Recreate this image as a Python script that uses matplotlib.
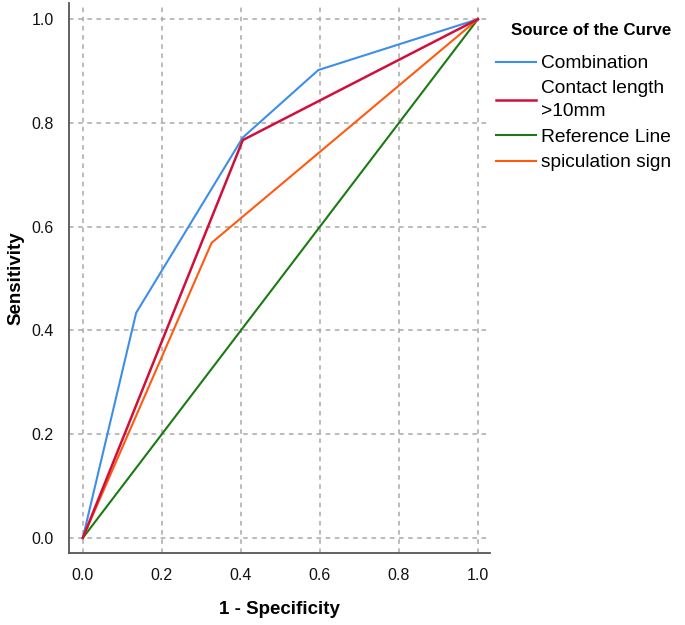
import matplotlib
matplotlib.use("Agg")
import matplotlib.pyplot as plt

plt.rcParams['font.family'] = ['Liberation Sans', 'DejaVu Sans']

# Data
comb_x = [0.0, 0.135, 0.405, 0.596, 1.0]
comb_y = [0.0, 0.434, 0.772, 0.902, 1.0]
contact_x = [0.0, 0.405, 1.0]
contact_y = [0.0, 0.767, 1.0]
ref_x = [0.0, 1.0]
ref_y = [0.0, 1.0]
spic_x = [0.0, 0.326, 1.0]
spic_y = [0.0, 0.569, 1.0]
ticks = [0.0, 0.2, 0.4, 0.6, 0.8, 1.0]
tick_labels = ["0.0", "0.2", "0.4", "0.6", "0.8", "1.0"]

fig = plt.figure(figsize=(6.85, 6.25), dpi=100)
ax = fig.add_axes([0.1007, 0.1152, 0.6143, 0.8798])

ax.plot(comb_x, comb_y, color='#3d8ee8', lw=1.5, label='Combination', zorder=3)
ax.plot(contact_x, contact_y, color='#d0103a', lw=1.8, label='Contact length\n>10mm', zorder=4)
ax.plot(ref_x, ref_y, color='#1b7a12', lw=1.5, label='Reference Line', zorder=2)
ax.plot(spic_x, spic_y, color='#ff5a10', lw=1.5, label='spiculation sign', zorder=3)

ax.set_xlim(-0.035, 1.03)
ax.set_ylim(-0.029, 1.031)
ax.set_xticks(ticks)
ax.set_xticklabels(tick_labels)
ax.set_yticks(ticks)
ax.set_yticklabels(tick_labels)
ax.tick_params(length=0, labelsize=11.5, pad=11, colors='#111111')
ax.grid(True, linestyle=(0, (3, 3)), color='#a8a8a8', lw=1.1)
ax.set_axisbelow(True)
for s in ['top', 'right']:
    ax.spines[s].set_visible(False)
for s in ['left', 'bottom']:
    ax.spines[s].set_color('#555555')
    ax.spines[s].set_linewidth(1.3)

ax.set_xlabel('1 - Specificity', fontsize=13.5, fontweight='bold', labelpad=13)
ax.set_ylabel('Sensitivity', fontsize=13.5, fontweight='bold', labelpad=5)

leg = fig.legend(loc='upper left', bbox_to_anchor=(0.713, 0.975), frameon=False,
                 title='Source of the Curve', fontsize=13.8, handlelength=2.1,
                 handletextpad=0.25, labelspacing=0.42, borderaxespad=0,
                 prop={'size': 13.8})
leg.get_title().set_fontweight('bold')
leg.get_title().set_fontsize(12.2)
for t in leg.get_texts():
    t.set_linespacing(1.45)
leg._legend_box.align = 'right'
leg._legend_box.sep = 12

fig.savefig('out.png', dpi=100)
